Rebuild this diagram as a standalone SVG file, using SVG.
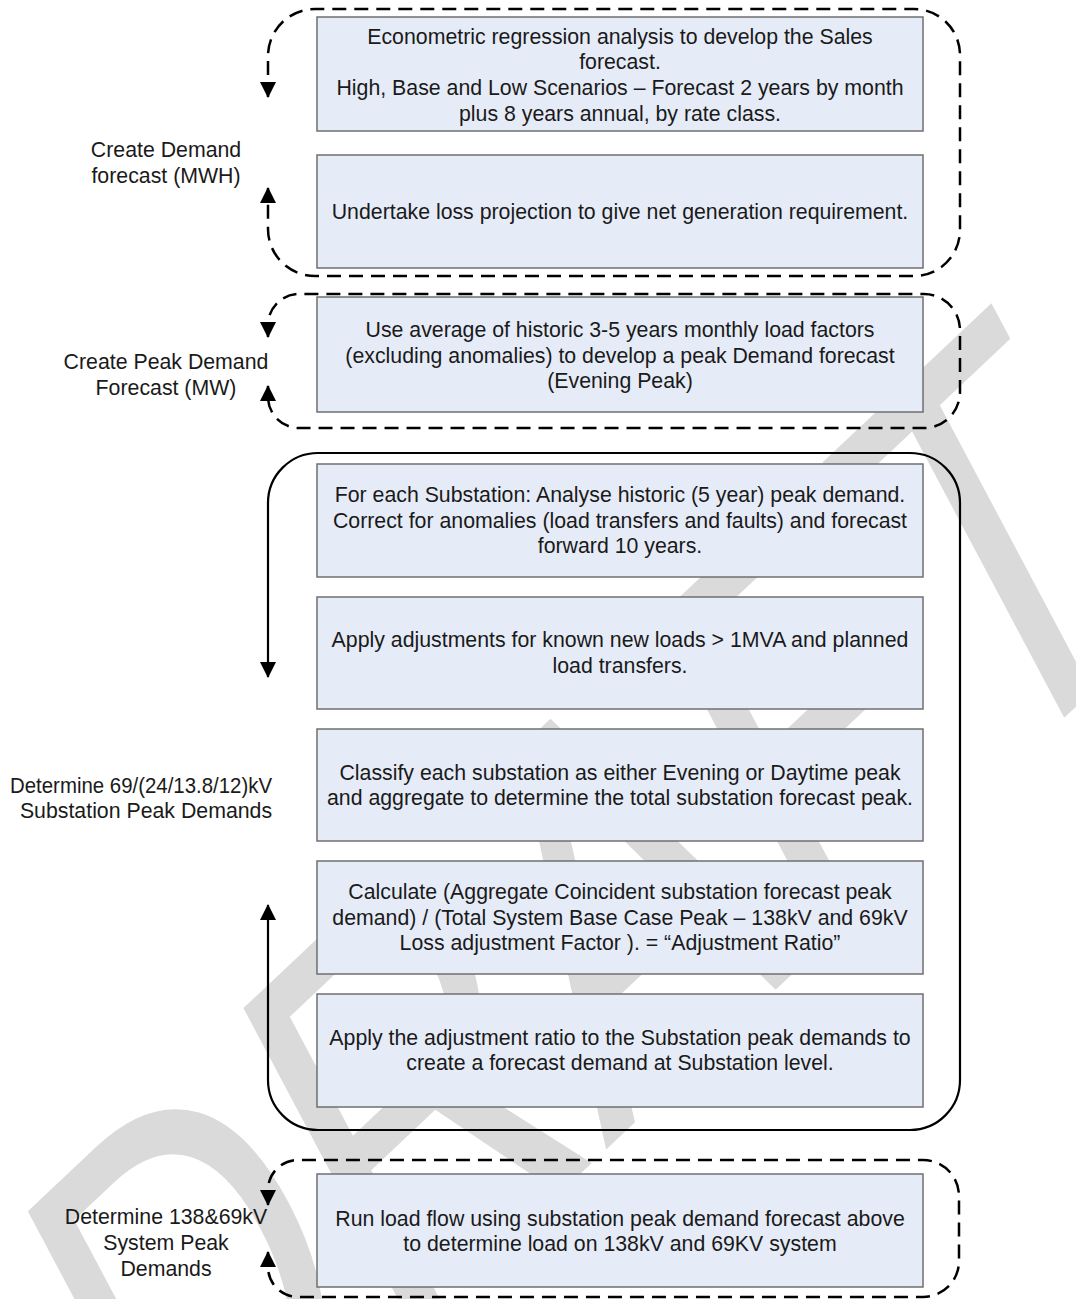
<svg xmlns="http://www.w3.org/2000/svg" width="1076" height="1299" viewBox="0 0 1076 1299">
<style>
.bg{fill:#ffffff}
.wm{font-family:"Liberation Sans",Arial,sans-serif;font-size:100px;fill:#dadada}
.box{fill:#e6ecf7;stroke:#6f6f6f;stroke-width:1.5}
.t{font-family:"Liberation Sans",Arial,sans-serif;font-size:21.3px;fill:#1a1a1a;text-anchor:middle}
.dash{fill:none;stroke:#000;stroke-width:2.5;stroke-dasharray:14 8;marker-start:url(#ah);marker-end:url(#ah)}
.solid{fill:none;stroke:#000;stroke-width:2.2;marker-start:url(#ah);marker-end:url(#ah)}
</style>
<defs>
<marker id="ah" viewBox="0 0 16 16" refX="15" refY="8" markerWidth="16" markerHeight="16" markerUnits="userSpaceOnUse" orient="auto-start-reverse">
<path d="M0,0 L16,8 L0,16 z" fill="#000"/>
</marker>
</defs>
<rect class="bg" x="0" y="0" width="1076" height="1299"/>
<text class="wm" x="0" y="0" transform="matrix(2.985 -2.813 2.486 4.68 174.4 1556.3)">DRAFT</text>
<g id="connectors">
<path class="dash" d="M268,97 L268,56 A47,47 0 0 1 315,9 L914,9 A46,46 0 0 1 960,55 L960,230 A46,46 0 0 1 914,276 L315,276 A47,47 0 0 1 268,229 L268,188"/>
<path class="dash" d="M268,337 L268,325 A31,31 0 0 1 299,294 L924,294 A36,36 0 0 1 960,330 L960,392 A36,36 0 0 1 924,428 L299,428 A31,31 0 0 1 268,397 L268,386"/>
<path class="solid" d="M268,677 L268,503 A50,50 0 0 1 318,453 L910,453 A50,50 0 0 1 960,503 L960,1080 A50,50 0 0 1 910,1130 L318,1130 A50,50 0 0 1 268,1080 L268,905"/>
<path class="dash" d="M268,1205 L268,1190 A30,30 0 0 1 298,1160 L923,1160 A36,36 0 0 1 959,1196 L959,1261 A36,36 0 0 1 923,1297 L298,1297 A30,30 0 0 1 268,1267 L268,1252"/>
</g>
<g id="label-demand">
<text class="t" x="166" y="156.5">Create Demand</text>
<text class="t" x="166" y="182.5">forecast (MWH)</text>
</g>
<g id="label-peak">
<text class="t" x="166" y="368.5">Create Peak Demand</text>
<text class="t" x="166" y="394.5">Forecast (MW)</text>
</g>
<g id="label-substation">
<text class="t" x="141" y="792.5" textLength="262" lengthAdjust="spacingAndGlyphs">Determine 69/(24/13.8/12)kV</text>
<text class="t" x="146" y="817.5">Substation Peak Demands</text>
</g>
<g id="label-system">
<text class="t" x="166" y="1223.5">Determine 138&amp;69kV</text>
<text class="t" x="166" y="1249.5">System Peak</text>
<text class="t" x="166" y="1275.5">Demands</text>
</g>
<g id="box-sales">
<rect class="box" x="317" y="17" width="606" height="114"/>
<text class="t" x="620" y="43.5">Econometric regression analysis to develop the Sales</text>
<text class="t" x="620" y="68.5">forecast.</text>
<text class="t" x="620" y="94.5">High, Base and Low Scenarios – Forecast 2 years by month</text>
<text class="t" x="620" y="120.5">plus 8 years annual, by rate class.</text>
</g>
<g id="box-loss">
<rect class="box" x="317" y="155" width="606" height="113"/>
<text class="t" x="620" y="218.5">Undertake loss projection to give net generation requirement.</text>
</g>
<g id="box-peak">
<rect class="box" x="317" y="297" width="606" height="115"/>
<text class="t" x="620" y="336.5">Use average of historic 3-5 years monthly load factors</text>
<text class="t" x="620" y="362.5">(excluding anomalies) to develop a peak Demand forecast</text>
<text class="t" x="620" y="387.5">(Evening Peak)</text>
</g>
<g id="box-analyse">
<rect class="box" x="317" y="464" width="606" height="113"/>
<text class="t" x="620" y="501.5">For each Substation: Analyse historic (5 year) peak demand.</text>
<text class="t" x="620" y="527.5">Correct for anomalies (load transfers and faults) and forecast</text>
<text class="t" x="620" y="552.5">forward 10 years.</text>
</g>
<g id="box-adjust">
<rect class="box" x="317" y="597" width="606" height="112"/>
<text class="t" x="620" y="646.5">Apply adjustments for known new loads &gt; 1MVA and planned</text>
<text class="t" x="620" y="672.5">load transfers.</text>
</g>
<g id="box-classify">
<rect class="box" x="317" y="729" width="606" height="112"/>
<text class="t" x="620" y="779.5">Classify each substation as either Evening or Daytime peak</text>
<text class="t" x="620" y="804.5">and aggregate to determine the total substation forecast peak.</text>
</g>
<g id="box-calculate">
<rect class="box" x="317" y="861" width="606" height="113"/>
<text class="t" x="620" y="898.5">Calculate (Aggregate Coincident substation forecast peak</text>
<text class="t" x="620" y="924.5">demand) / (Total System Base Case Peak – 138kV and 69kV</text>
<text class="t" x="620" y="949.5">Loss adjustment Factor ). = “Adjustment Ratio”</text>
</g>
<g id="box-apply">
<rect class="box" x="317" y="994" width="606" height="113"/>
<text class="t" x="620" y="1044.5">Apply the adjustment ratio to the Substation peak demands to</text>
<text class="t" x="620" y="1069.5">create a forecast demand at Substation level.</text>
</g>
<g id="box-loadflow">
<rect class="box" x="317" y="1174" width="606" height="113"/>
<text class="t" x="620" y="1225.5">Run load flow using substation peak demand forecast above</text>
<text class="t" x="620" y="1250.5">to determine load on 138kV and 69KV system</text>
</g>
</svg>
